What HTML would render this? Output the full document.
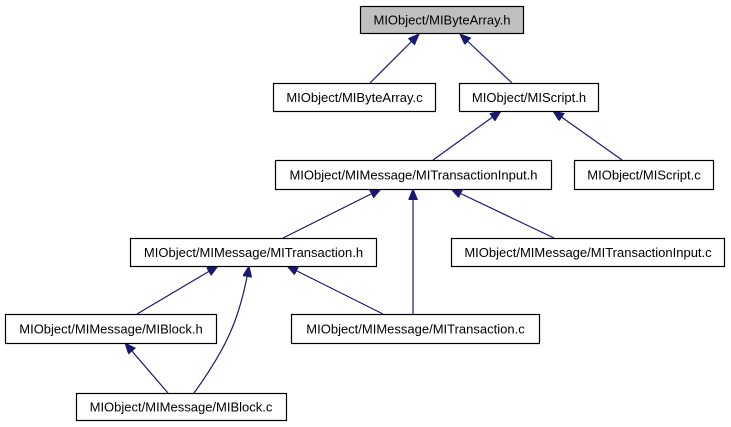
<!DOCTYPE html>
<html><head><meta charset="utf-8"><style>
html,body{margin:0;padding:0;background:#fff;}
svg{display:block;}
text{font-family:"Liberation Sans",Arial,sans-serif;font-size:13px;fill:#000;}
</style></head><body>
<svg width="731" height="427" viewBox="0 0 731 427" xmlns="http://www.w3.org/2000/svg">
<defs>
<marker id="a" markerWidth="12" markerHeight="10" refX="11" refY="4.5" orient="auto" markerUnits="userSpaceOnUse">
<path d="M0,0 L11,4.5 L0,9 z" fill="#191970" stroke="#191970"/>
</marker>
</defs>
<g stroke="#191970" stroke-width="1.2" fill="none" marker-end="url(#a)">
<line x1="370" y1="83" x2="419" y2="34"/>
<line x1="512" y1="83" x2="460" y2="34"/>
<line x1="433" y1="160" x2="501" y2="111"/>
<line x1="622" y1="160" x2="553" y2="111"/>
<line x1="283" y1="238" x2="381" y2="189"/>
<line x1="413" y1="314" x2="413" y2="189"/>
<line x1="554" y1="238" x2="451" y2="189"/>
<line x1="137" y1="314" x2="218" y2="266"/>
<path d="M194,393 C225,350 240,320 249,266"/>
<line x1="383" y1="314" x2="287" y2="266"/>
<line x1="168" y1="393" x2="125" y2="343"/>
</g>
<g stroke="#000" stroke-width="1.2">
<rect x="360.5" y="6.5" width="163" height="27" fill="#bfbfbf"/>
<rect x="273.5" y="83.5" width="162" height="28" fill="#fff"/>
<rect x="459.5" y="83.5" width="139" height="28" fill="#fff"/>
<rect x="275.5" y="160.5" width="276" height="29" fill="#fff"/>
<rect x="574.5" y="160.5" width="139" height="29" fill="#fff"/>
<rect x="130.5" y="238.5" width="246" height="28" fill="#fff"/>
<rect x="451.5" y="238.5" width="273" height="28" fill="#fff"/>
<rect x="5.5" y="314.5" width="211" height="29" fill="#fff"/>
<rect x="291.5" y="314.5" width="248" height="29" fill="#fff"/>
<rect x="76.5" y="393.5" width="210" height="27" fill="#fff"/>
</g>
<g text-anchor="middle">
<text x="442" y="24.5">MIObject/MIByteArray.h</text>
<text x="354.5" y="102">MIObject/MIByteArray.c</text>
<text x="529" y="102">MIObject/MIScript.h</text>
<text x="413.5" y="179.5">MIObject/MIMessage/MITransactionInput.h</text>
<text x="644" y="179.5">MIObject/MIScript.c</text>
<text x="253.5" y="257">MIObject/MIMessage/MITransaction.h</text>
<text x="588" y="257">MIObject/MIMessage/MITransactionInput.c</text>
<text x="111" y="333.5">MIObject/MIMessage/MIBlock.h</text>
<text x="415.5" y="333.5">MIObject/MIMessage/MITransaction.c</text>
<text x="181" y="411.5">MIObject/MIMessage/MIBlock.c</text>
</g>
</svg>
</body></html>
